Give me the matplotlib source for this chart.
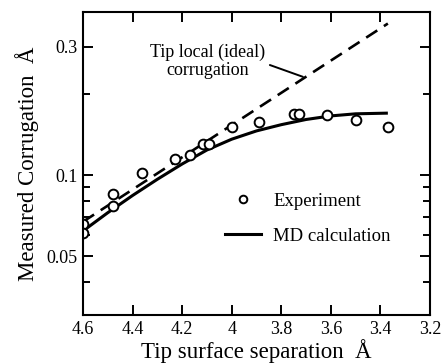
import numpy as np
import matplotlib
matplotlib.use("Agg")
from matplotlib import pyplot as plt
from matplotlib.lines import Line2D

# experiment points (tip surface separation in A, corrugation in A)
exp_sep = [4.60, 4.60, 4.48, 4.48, 4.36, 4.23, 4.17, 4.115, 4.09, 4.00, 3.89, 3.75, 3.73, 3.615, 3.50, 3.37]
exp_corr = [0.066, 0.061, 0.085, 0.077, 0.1015, 0.115, 0.119, 0.130, 0.130, 0.151, 0.158, 0.169, 0.169, 0.167, 0.160, 0.151]

# MD calculation curve
md_sep = [4.60, 4.50, 4.40, 4.30, 4.20, 4.10, 4.00, 3.90, 3.80, 3.70, 3.60, 3.50, 3.37]
md_corr = [0.062, 0.0725, 0.084, 0.0965, 0.110, 0.124, 0.136, 0.146, 0.154, 0.161, 0.166, 0.169, 0.170]

# tip local (ideal) corrugation, straight on the log axis
tip_sep = [4.60, 3.37]
tip_corr = [0.0671, 0.366]

x_ticks = [4.6, 4.4, 4.2, 4.0, 3.8, 3.6, 3.4, 3.2]
x_labels = ['4.6', '4.4', '4.2', '4', '3.8', '3.6', '3.4', '3.2']
y_ticks = [0.05, 0.1, 0.3]
y_labels = ['0.05', '0.1', '0.3']
y_minor = [0.04, 0.06, 0.07, 0.08, 0.09, 0.2]

plt.rcParams['font.family'] = ['Liberation Serif', 'DejaVu Serif']

fig = plt.figure(figsize=(4.45, 3.64), dpi=100)
ax = fig.add_axes([83/445, 49/364, 347/445, 303/364])

ax.plot(tip_sep, tip_corr, color='black', lw=1.9, dashes=(5.0, 3.0))
ax.plot(md_sep, md_corr, color='black', lw=2.2, solid_capstyle='butt')
ax.plot(exp_sep, exp_corr, linestyle='none', marker='o', ms=7, mfc='white',
        mec='black', mew=1.4)

ax.set_yscale('log')
ax.set_xlim(4.6, 3.2)
ax.set_ylim(0.0302, 0.404)

ax.set_xticks(x_ticks)
ax.set_xticklabels(x_labels)
ax.set_yticks(y_ticks)
ax.set_yticklabels(y_labels)
ax.set_yticks(y_minor, minor=True)
ax.yaxis.set_minor_formatter(matplotlib.ticker.NullFormatter())
ax.xaxis.set_minor_locator(matplotlib.ticker.NullLocator())

ax.tick_params(which='both', direction='in', top=True, right=True, width=1.4,
               labelsize=13, colors='black')
ax.tick_params(which='major', length=7, pad=4)
ax.tick_params(which='minor', length=5)
for s in ax.spines.values():
    s.set_linewidth(1.5)

ax.set_xlabel('Tip surface separation  Å', fontsize=16.5, labelpad=1)
ax.set_ylabel('Measured Corrugation  Å', fontsize=16.5, labelpad=5)

# leader line + label for the ideal corrugation
ax.annotate('', xy=(3.713, 0.232), xytext=(3.846, 0.2566),
            arrowprops=dict(arrowstyle='-', color='black', lw=1.4,
                            shrinkA=0, shrinkB=0))
ax.text(4.096, 0.265, 'Tip local (ideal)\ncorrugation', ha='center', va='center',
        fontsize=13, linespacing=1.05)

handles = [Line2D([], [], linestyle='none', marker='o', ms=5.5, mfc='white',
                  mec='black', mew=1.4),
           Line2D([], [], color='black', lw=2.2)]
ax.legend(handles, ['Experiment', 'MD calculation'], loc='upper left',
          bbox_to_anchor=(0.41, 0.403), frameon=False, fontsize=13.5,
          handlelength=1.9, handletextpad=0.65, labelspacing=0.95,
          borderpad=0, borderaxespad=0)

fig.savefig('out.png', dpi=100)
